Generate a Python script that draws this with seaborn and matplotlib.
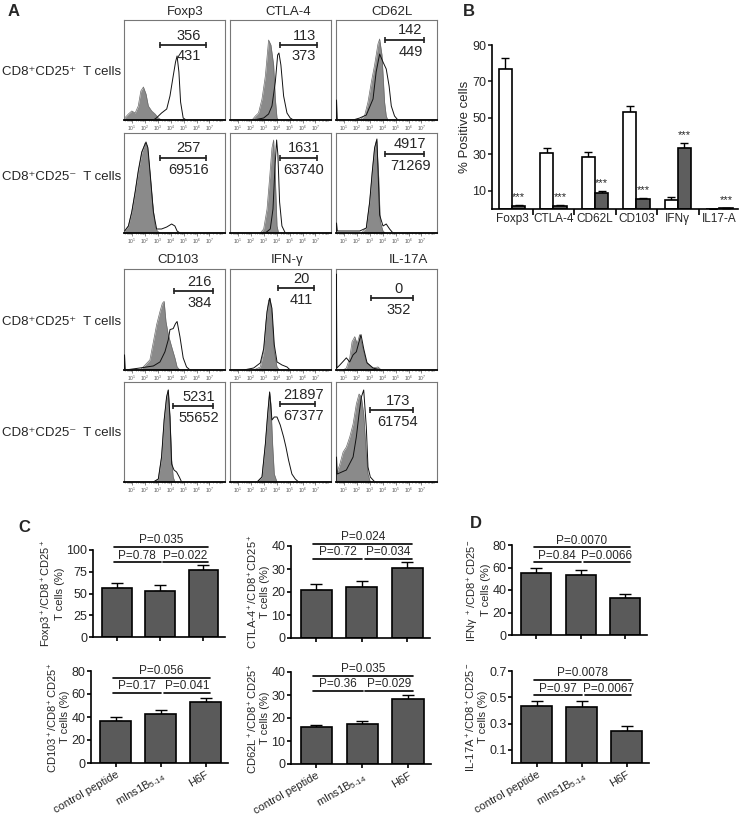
import numpy as np
import pandas as pd
import seaborn as sns
import matplotlib
matplotlib.use("Agg")
import matplotlib.pyplot as plt

# ---------------- panel A: flow histograms (log10 intensity, relative count)
foxp3_pos_fill = [(0.45, 0.02), (0.74, 0.06), (1.0, 0.09), (1.26, 0.07), (1.5, 0.14), (1.7, 0.29), (1.9, 0.33),
                  (2.1, 0.26), (2.28, 0.14), (2.54, 0.09), (2.8, 0.06), (3.05, 0.02), (3.3, 0)]
foxp3_pos_line = [(2.67, 0), (2.9, 0.02), (3.3, 0.07), (3.7, 0.11), (3.95, 0.24), (4.2, 0.44), (4.38, 0.58),
                  (4.5, 0.64), (4.64, 0.48), (4.77, 0.18), (4.97, 0.02), (5.2, 0)]
ctla4_pos_fill = [(2.1, 0), (2.36, 0.04), (2.6, 0.07), (2.87, 0.21), (3.13, 0.44), (3.38, 0.8), (3.56, 0.75),
                  (3.77, 0.55), (3.9, 0.21), (4.03, 0.02), (4.15, 0)]
ctla4_pos_line = [(2.23, 0), (3.0, 0.02), (3.38, 0.06), (3.64, 0.14), (3.9, 0.38), (4.08, 0.65), (4.18, 0.67),
                  (4.33, 0.55), (4.54, 0.24), (4.8, 0.07), (5.05, 0.02), (5.3, 0)]
cd62l_pos_fill = [(2.23, 0), (2.6, 0.04), (2.87, 0.18), (3.13, 0.38), (3.38, 0.55), (3.64, 0.76), (3.77, 0.81),
                  (3.95, 0.65), (4.15, 0.18), (4.28, 0.04), (4.4, 0)]
cd62l_pos_line = [(0.42, 0), (0.44, 0.2), (0.5, 0), (1.72, 0), (2.23, 0.02), (2.74, 0.05), (3.26, 0.21),
                  (3.5, 0.48), (3.77, 0.66), (4.03, 0.58), (4.28, 0.51), (4.5, 0.34), (4.67, 0.14),
                  (4.92, 0.04), (5.18, 0)]

foxp3_neg_fill = [(0.45, 0.02), (0.74, 0.07), (1.0, 0.21), (1.26, 0.41), (1.5, 0.61), (1.77, 0.8), (2.03, 0.9),
                  (2.2, 0.87), (2.4, 0.61), (2.6, 0.31), (2.8, 0.07), (2.97, 0.02), (3.18, 0)]
foxp3_neg_line = [(0.45, 0.02), (0.74, 0.07), (1.0, 0.21), (1.26, 0.41), (1.5, 0.62), (1.77, 0.81), (2.1, 0.91),
                  (2.25, 0.85), (2.45, 0.55), (2.67, 0.21), (2.92, 0.04), (3.3, 0.04), (3.7, 0.06),
                  (4.08, 0.09), (4.33, 0.07), (4.5, 0.02), (4.72, 0)]
ctla4_neg_fill = [(2.74, 0), (3.0, 0.04), (3.26, 0.24), (3.46, 0.55), (3.64, 0.85), (3.77, 0.93), (3.9, 0.55),
                  (4.03, 0.07), (4.15, 0)]
ctla4_neg_line = [(3.13, 0), (3.51, 0.04), (3.72, 0.24), (3.87, 0.65), (4.0, 0.93), (4.1, 0.78), (4.23, 0.31),
                  (4.41, 0.07), (4.67, 0)]
cd62l_neg_fill = [(2.36, 0), (2.74, 0.05), (3.0, 0.31), (3.2, 0.61), (3.38, 0.85), (3.54, 0.93), (3.7, 0.55),
                  (3.82, 0.11), (4.03, 0.02), (4.2, 0)]
cd62l_neg_line = [(0.42, 0), (0.44, 0.1), (0.5, 0.02), (2.23, 0.02), (2.74, 0.05), (3.0, 0.31), (3.2, 0.61),
                  (3.38, 0.85), (3.56, 0.94), (3.77, 0.18), (4.03, 0.07), (4.28, 0.09), (4.54, 0.04), (4.8, 0)]

cd103_pos_fill = [(1.64, 0), (2.03, 0.05), (2.4, 0.1), (2.67, 0.28), (2.92, 0.45), (3.18, 0.58), (3.36, 0.66),
                  (3.5, 0.68), (3.64, 0.48), (3.82, 0.35), (4.08, 0.23), (4.33, 0.12), (4.5, 0.03), (4.72, 0)]
cd103_pos_line = [(0.42, 0), (0.44, 0.15), (0.5, 0), (1.64, 0.02), (2.15, 0.03), (2.67, 0.04), (3.18, 0.08),
                  (3.56, 0.18), (3.82, 0.3), (3.95, 0.4), (4.2, 0.41), (4.38, 0.46), (4.5, 0.48), (4.72, 0.33),
                  (4.97, 0.12), (5.23, 0.03), (5.5, 0)]
ifng_pos_fill = [(2.23, 0), (2.74, 0.03), (3.0, 0.18), (3.18, 0.48), (3.38, 0.69), (3.51, 0.71), (3.64, 0.54),
                 (3.82, 0.18), (4.03, 0.03), (4.23, 0)]
ifng_pos_line = [(1.46, 0), (2.23, 0.02), (2.74, 0.07), (3.0, 0.21), (3.26, 0.58), (3.46, 0.71), (3.64, 0.61),
                 (3.82, 0.25), (4.03, 0.08), (4.41, 0.05), (4.8, 0.03), (5.05, 0)]
il17a_pos_fill = [(0.95, 0), (1.2, 0.02), (1.46, 0.12), (1.64, 0.28), (1.85, 0.33), (2.03, 0.26), (2.23, 0.35),
                  (2.49, 0.21), (2.74, 0.08), (3.0, 0.05), (3.26, 0.02), (3.64, 0.03), (3.9, 0)]
il17a_pos_line = [(0.42, 0), (0.43, 0.95), (0.47, 0.02), (0.7, 0.05), (1.2, 0.12), (1.46, 0.08), (1.72, 0.15),
                  (1.97, 0.18), (2.18, 0.28), (2.33, 0.35), (2.54, 0.21), (2.8, 0.07), (3.26, 0.02), (3.77, 0)]

cd103_neg_fill = [(2.67, 0), (3.05, 0.03), (3.3, 0.25), (3.5, 0.62), (3.69, 0.85), (3.82, 0.92), (3.95, 0.65),
                  (4.08, 0.22), (4.2, 0.05), (4.33, 0)]
cd103_neg_line = [(2.67, 0), (3.05, 0.03), (3.3, 0.25), (3.5, 0.62), (3.69, 0.85), (3.82, 0.92), (3.95, 0.65),
                  (4.08, 0.18), (4.26, 0.12), (4.46, 0.1), (4.67, 0.05), (4.85, 0)]
ifng_neg_fill = [(2.49, 0), (2.87, 0.05), (3.13, 0.38), (3.31, 0.68), (3.46, 0.9), (3.56, 0.78), (3.69, 0.38),
                 (3.82, 0.08), (4.03, 0)]
ifng_neg_line = [(2.49, 0), (2.87, 0.05), (3.13, 0.38), (3.31, 0.68), (3.46, 0.9), (3.64, 0.62), (3.82, 0.65),
                 (4.03, 0.65), (4.28, 0.57), (4.54, 0.45), (4.72, 0.35), (4.92, 0.22), (5.18, 0.08),
                 (5.44, 0.03), (5.7, 0)]
il17a_neg_fill = [(0.44, 0.08), (0.7, 0.18), (0.95, 0.3), (1.2, 0.35), (1.46, 0.45), (1.72, 0.58), (1.97, 0.78),
                  (2.18, 0.88), (2.36, 0.85), (2.54, 0.68), (2.74, 0.28), (2.87, 0.08), (3.05, 0)]
il17a_neg_line = [(0.42, 0), (0.44, 0.25), (0.5, 0.08), (1.2, 0.12), (1.72, 0.25), (1.97, 0.45), (2.18, 0.68),
                  (2.36, 0.85), (2.54, 0.92), (2.74, 0.55), (2.87, 0.15), (3.05, 0.05), (3.4, 0)]

markers_top = ["Foxp3", "CTLA-4", "CD62L"]
markers_bottom = ["CD103", "IFN-γ", "IL-17A"]
row_labels = ["CD8⁺CD25⁺  T cells", "CD8⁺CD25⁻  T cells", "CD8⁺CD25⁺  T cells", "CD8⁺CD25⁻  T cells"]
gate_counts = [[356, 113, 142], [257, 1631, 4917], [216, 20, 0], [5231, 21897, 173]]
gate_totals = [[431, 373, 449], [69516, 63740, 71269], [384, 411, 352], [55652, 67377, 61754]]
gate_lo = [[3.18, 4.23, 4.15], [3.18, 4.23, 4.15], [4.26, 4.08, 3.13], [4.2, 4.23, 3.05]]
gate_hi = [[6.72, 7.1, 7.23], [6.72, 7.1, 7.23], [7.28, 6.9, 6.38], [7.28, 6.97, 6.38]]
gate_level = [[0.75, 0.75, 0.80], [0.75, 0.75, 0.79], [0.78, 0.81, 0.71], [0.76, 0.78, 0.72]]

hist_fill = [[foxp3_pos_fill, ctla4_pos_fill, cd62l_pos_fill],
             [foxp3_neg_fill, ctla4_neg_fill, cd62l_neg_fill],
             [cd103_pos_fill, ifng_pos_fill, il17a_pos_fill],
             [cd103_neg_fill, ifng_neg_fill, il17a_neg_fill]]
hist_line = [[foxp3_pos_line, ctla4_pos_line, cd62l_pos_line],
             [foxp3_neg_line, ctla4_neg_line, cd62l_neg_line],
             [cd103_pos_line, ifng_pos_line, il17a_pos_line],
             [cd103_neg_line, ifng_neg_line, il17a_neg_line]]

# ---------------- panel B
b_markers = ["Foxp3", "CTLA-4", "CD62L", "CD103", "IFNγ", "IL17-A"]
b_pos_mean = [77.1, 30.8, 28.8, 53.3, 5.1, 0.0]
b_pos_sem = [6.0, 2.5, 2.3, 3.1, 1.7, 0.0]
b_neg_mean = [1.5, 1.6, 8.8, 5.5, 33.5, 0.4]
b_neg_sem = [0.9, 0.6, 1.3, 0.7, 2.8, 0.0]

# ---------------- panels C and D
groups = ["control peptide", r"mIns1B$_{5\text{-}14}$", "H6F"]
foxp3_mean, foxp3_sem = [55.9, 53.3, 77.3], [6.0, 6.0, 5.5]
ctla4_mean, ctla4_sem = [20.8, 22.2, 30.6], [2.6, 2.4, 2.3]
cd103_mean, cd103_sem = [36.3, 43.0, 53.2], [3.8, 3.2, 3.2]
cd62l_mean, cd62l_sem = [15.9, 17.6, 28.1], [1.1, 1.2, 2.0]
ifng_mean, ifng_sem = [54.8, 53.0, 33.2], [5.0, 4.8, 2.9]
il17a_mean, il17a_sem = [0.433, 0.428, 0.247], [0.04, 0.04, 0.035]

foxp3_p = [(0, 2, 104, "P=0.035"), (0, 1, 86.3, "P=0.78"), (1, 2, 86.3, "P=0.022")]
ctla4_p = [(0, 2, 41.0, "P=0.024"), (0, 1, 34.5, "P=0.72"), (1, 2, 34.5, "P=0.034")]
cd103_p = [(0, 2, 74.1, "P=0.056"), (0, 1, 61.0, "P=0.17"), (1, 2, 61.0, "P=0.041")]
cd62l_p = [(0, 2, 38.3, "P=0.035"), (0, 1, 31.8, "P=0.36"), (1, 2, 31.8, "P=0.029")]
ifng_p = [(0, 2, 77.9, "P=0.0070"), (0, 1, 64.6, "P=0.84"), (1, 2, 64.6, "P=0.0066")]
il17a_p = [(0, 2, 0.634, "P=0.0078"), (0, 1, 0.516, "P=0.97"), (1, 2, 0.516, "P=0.0067")]

sns.set_theme(style="ticks")
plt.rcParams["font.family"] = ["Liberation Sans", "DejaVu Sans"]
plt.rcParams["mathtext.fontset"] = "custom"
plt.rcParams["mathtext.rm"] = "Liberation Sans"
plt.rcParams["mathtext.it"] = "Liberation Sans:italic"
plt.rcParams["mathtext.bf"] = "Liberation Sans:bold"

W, H = 740, 817
fig = plt.figure(figsize=(7.4, 8.17), dpi=100)
fig.patch.set_facecolor("white")


def px_axes(l, t, r, b):
    return fig.add_axes([l / W, 1 - b / H, (r - l) / W, (b - t) / H])


def ftext(x, y, s, **kw):
    fig.text(x / W, 1 - y / H, s, **kw)


def draw_hist(ax, fill, line, lo, hi, lev, n_in, n_all):
    fx, fy = zip(*fill)
    ax.fill_between(fx, fy, color="#8a8a8a", lw=0, zorder=1)
    ax.plot(fx, fy, color="#6a6a6a", lw=0.5, zorder=2)
    lx, ly = zip(*line)
    ax.plot(lx, ly, color="#111111", lw=0.7, zorder=3)
    ax.plot([lo, hi], [lev, lev], color="#222222", lw=1.3, marker="|", ms=5, mew=1.2)
    cx = (lo + hi) / 2 + 0.45
    ax.text(cx, lev + 0.025, str(n_in), ha="center", va="bottom", fontsize=10.5)
    ax.text(cx, lev - 0.045, str(n_all), ha="center", va="top", fontsize=10.5)
    ax.set_xlim(0.4, 8.2)
    ax.set_ylim(0, 1.0)
    ax.set_yticks([])
    ax.set_xticks(range(1, 8))
    ax.set_xticklabels([f"$10^{{{k}}}$" for k in range(1, 8)], fontsize=3.5, color="#555555")
    minor = [k + np.log10(m) for k in range(0, 9) for m in range(2, 10)]
    ax.set_xticks([v for v in minor if 0.4 < v < 8.2], minor=True)
    ax.tick_params(axis="x", which="major", length=1.8, width=0.5, pad=1, color="#555555")
    ax.tick_params(axis="x", which="minor", length=1.0, width=0.4, color="#555555")
    for s in ax.spines.values():
        s.set_color("#777777")
        s.set_linewidth(0.8)
    ax.spines["bottom"].set_color("black")
    ax.spines["bottom"].set_linewidth(1.3)


hist_cols = [(124, 225), (230, 331), (336, 437)]
hist_rows = [(20, 120), (133, 233), (269, 370), (382, 482)]
for r, (t, b) in enumerate(hist_rows):
    for c, (l, rr) in enumerate(hist_cols):
        ax = px_axes(l, t, rr, b)
        draw_hist(ax, hist_fill[r][c], hist_line[r][c], gate_lo[r][c], gate_hi[r][c],
                  gate_level[r][c], gate_counts[r][c], gate_totals[r][c])

for name, x in zip(markers_top, [185, 288, 392]):
    ftext(x, 12, name, ha="center", va="center", fontsize=9.5)
for name, x in zip(markers_bottom, [178, 287, 408]):
    ftext(x, 260, name, ha="center", va="center", fontsize=9.5)
for lab, y in zip(row_labels, [72, 177, 322, 433]):
    ftext(2, y, lab, ha="left", va="center", fontsize=9.5)

ftext(8, 12, "A", ha="left", va="center", fontsize=12, fontweight="bold")
ftext(463, 12, "B", ha="left", va="center", fontsize=12, fontweight="bold")
ftext(18, 527, "C", ha="left", va="center", fontsize=12, fontweight="bold")
ftext(470, 524, "D", ha="left", va="center", fontsize=12, fontweight="bold")

# ---------------- panel B
axB = px_axes(492, 45, 738, 209)
dfB = pd.DataFrame({"marker": b_markers * 2,
                    "pct": b_pos_mean + b_neg_mean,
                    "subset": ["CD25+"] * 6 + ["CD25-"] * 6})
sns.barplot(data=dfB, x="marker", y="pct", hue="subset", palette=["white", "#5e5e5e"],
            saturation=1, edgecolor="black", linewidth=1.2, width=0.64, errorbar=None,
            legend=False, ax=axB)
bars = axB.patches[:12]
cx = [p.get_x() + p.get_width() / 2 for p in bars]
axB.errorbar(cx, b_pos_mean + b_neg_mean, yerr=[[0] * 12, b_pos_sem + b_neg_sem], fmt="none",
             ecolor="black", elinewidth=1, capsize=3, capthick=1, zorder=0)
for x, m, s in zip(cx[6:], b_neg_mean, b_neg_sem):
    axB.text(x, m + s + 1.5, "***", ha="center", va="bottom", fontsize=8)
axB.set_xlim(-0.48, 5.45)
axB.set_ylim(0, 90)
axB.set_yticks([10, 30, 50, 70, 90])
axB.set_xticks(range(6))
axB.set_xticklabels(b_markers, fontsize=8.5)
axB.set_xticks([0.5, 1.5, 2.5, 3.5, 4.5], minor=True)
axB.tick_params(axis="x", which="major", length=0, pad=3)
axB.tick_params(axis="x", which="minor", length=4, width=1.2, color="black")
axB.tick_params(axis="y", labelsize=9, length=3, width=1.2, pad=1)
axB.set_xlabel("")
axB.set_ylabel("% Positive cells", fontsize=9.5, labelpad=1)
sns.despine(ax=axB)
for s in ["left", "bottom"]:
    axB.spines[s].set_linewidth(1.2)
    axB.spines[s].set_color("black")


# ---------------- panels C and D
def draw_cd(ax, means, sems, yticks, ymax, ylabel, pvals, xlabels):
    df = pd.DataFrame({"group": groups, "value": means})
    sns.barplot(data=df, x="group", y="value", color="#5a5a5a", saturation=1, edgecolor="black",
                linewidth=1.2, width=0.68, errorbar=None, ax=ax)
    cxs = [p.get_x() + p.get_width() / 2 for p in ax.patches[:3]]
    ax.errorbar(cxs, means, yerr=[[0] * 3, sems], fmt="none", ecolor="black", elinewidth=1,
                capsize=4, capthick=1, zorder=0)
    for i, j, y, txt in pvals:
        x0 = i - 0.06 if i == 0 else i + 0.07
        x1 = j + 0.01 if j == 1 else j + 0.11
        ax.plot([x0, x1], [y, y], color="black", lw=1.2, clip_on=False)
        ax.annotate(txt, xy=((x0 + x1) / 2, y), xytext=(0, 0.3), textcoords="offset points",
                    ha="center", va="bottom", fontsize=8.5, annotation_clip=False)
    ax.set_xlim(-0.55, 2.5)
    ax.set_ylim(0, ymax)
    ax.set_yticks(yticks)
    ax.set_xticks(range(3))
    if xlabels:
        ax.set_xticklabels(groups, rotation=30, ha="right", rotation_mode="anchor", fontsize=8)
    else:
        ax.set_xticklabels([])
    ax.tick_params(axis="both", length=3, width=1.2, color="black", pad=2)
    ax.tick_params(axis="y", labelsize=9, pad=1)
    ax.set_xlabel("")
    ax.set_ylabel(ylabel, fontsize=8, labelpad=1, linespacing=1.0)
    sns.despine(ax=ax)
    for s in ["left", "bottom"]:
        ax.spines[s].set_linewidth(1.2)
        ax.spines[s].set_color("black")


draw_cd(px_axes(93, 550, 225, 637), foxp3_mean, foxp3_sem, [0, 25, 50, 75, 100], 100,
        "Foxp3$^+$/CD8$^+$CD25$^+$\nT cells (%)", foxp3_p, False)
draw_cd(px_axes(291, 546, 430, 638), ctla4_mean, ctla4_sem, [0, 10, 20, 30, 40], 40,
        "CTLA-4$^+$/CD8$^+$CD25$^+$\nT cells (%)", ctla4_p, False)
draw_cd(px_axes(91, 671, 228, 763), cd103_mean, cd103_sem, [0, 20, 40, 60, 80], 80,
        "CD103$^+$/CD8$^+$CD25$^+$\nT cells (%)", cd103_p, True)
draw_cd(px_axes(291, 672, 431, 764), cd62l_mean, cd62l_sem, [0, 10, 20, 30, 40], 40,
        "CD62L$^+$/CD8$^+$CD25$^+$\nT cells (%)", cd62l_p, True)
draw_cd(px_axes(512, 545, 647, 635), ifng_mean, ifng_sem, [0, 20, 40, 60, 80], 80,
        "IFNγ $^+$/CD8$^+$CD25$^-$\nT cells (%)", ifng_p, False)
draw_cd(px_axes(512, 671, 649, 763), il17a_mean, il17a_sem, [0.1, 0.3, 0.5, 0.7], 0.7,
        "IL-17A$^+$/CD8$^+$CD25$^-$\nT cells (%)", il17a_p, True)

fig.savefig("out.png", dpi=100, facecolor="white")
